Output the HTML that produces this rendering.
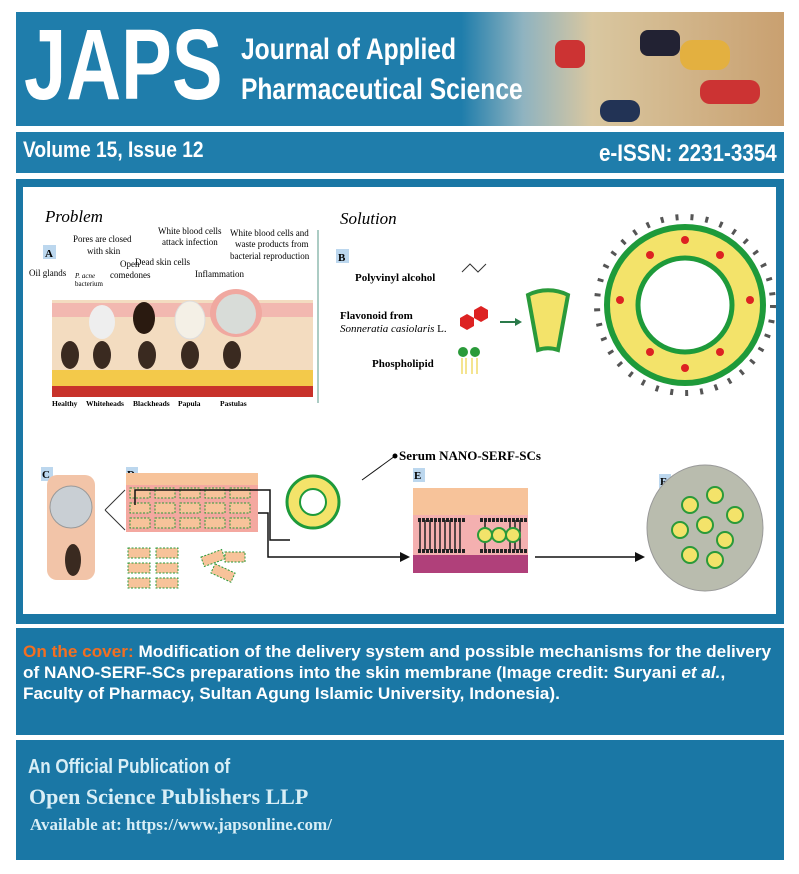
<!DOCTYPE html>
<html><head><meta charset="utf-8"><style>
body{margin:0;width:799px;height:874px;background:#fff;position:relative;overflow:hidden;font-family:"Liberation Sans",sans-serif}
.abs{position:absolute}
</style></head><body>
<div class="abs" style="left:16px;top:12px;width:768px;height:114px;background:linear-gradient(90deg,#1f7dab 0%,#1f7dab 58%,#8fb3c0 66%,#d9c7a0 75%,#c9a070 100%)"></div>
<div class="abs" style="left:555px;top:40px;width:30px;height:28px;background:#c33;border-radius:8px"></div>
<div class="abs" style="left:640px;top:30px;width:40px;height:26px;background:#223;border-radius:8px"></div>
<div class="abs" style="left:700px;top:80px;width:60px;height:24px;background:#c33;border-radius:10px"></div>
<div class="abs" style="left:600px;top:100px;width:40px;height:22px;background:#235;border-radius:10px"></div>
<div class="abs" style="left:680px;top:40px;width:50px;height:30px;background:#e3b040;border-radius:12px"></div>
<div class="abs" style="left:24px;top:15px;color:#fff;font-weight:bold;font-size:100px;line-height:100px;transform:scaleX(0.76);transform-origin:left">JAPS</div>
<div class="abs" style="left:241px;top:30px;color:#fff;font-weight:bold;font-size:30px;line-height:40px;transform:scaleX(0.82);transform-origin:left;white-space:nowrap">Journal of Applied<br>Pharmaceutical Science</div>
<div class="abs" style="left:16px;top:132px;width:768px;height:41px;background:#1f7dab"></div>
<div class="abs" style="left:23px;top:137px;color:#fff;font-weight:bold;font-size:22px;transform:scaleX(0.87);transform-origin:left;white-space:nowrap">Volume 15, Issue 12</div>
<div class="abs" style="right:22px;top:140px;color:#fff;font-weight:bold;font-size:24px;transform:scaleX(0.86);transform-origin:right;white-space:nowrap">e-ISSN: 2231-3354</div>
<div class="abs" style="left:16px;top:179px;width:768px;height:445px;background:#1a77a5"></div>
<div class="abs" style="left:23px;top:187px;width:753px;height:427px;background:#fff"></div>
<svg class="abs" style="left:0;top:0" width="799" height="620" font-family="Liberation Serif,serif">
<text x="45" y="222" font-size="17" font-style="italic">Problem</text>
<text x="340" y="224" font-size="17" font-style="italic">Solution</text>
<line x1="318" y1="230" x2="318" y2="403" stroke="#5a9a8a"/>
<rect x="43" y="245" width="13" height="14" fill="#bcd7ee"/><text x="45" y="257" font-size="11" font-weight="bold">A</text>
<g font-size="9">
<text x="29" y="276">Oil glands</text><text x="75" y="278" font-size="7" font-style="italic">P. acne</text><text x="75" y="286" font-size="7">bacterium</text>
<text x="73" y="242">Pores are closed</text><text x="87" y="254">with skin</text>
<text x="120" y="267">Open</text><text x="110" y="278">comedones</text>
<text x="135" y="265">Dead skin cells</text>
<text x="158" y="234">White blood cells</text><text x="162" y="245">attack infection</text>
<text x="230" y="236">White blood cells and</text><text x="235" y="247">waste products from</text><text x="230" y="259">bacterial reproduction</text>
<text x="195" y="277">Inflammation</text>
</g>
<rect x="52" y="300" width="261" height="97" fill="#f3dcc0"/>
<rect x="52" y="303" width="261" height="14" fill="#f2b8b0"/>
<rect x="52" y="370" width="261" height="16" fill="#f3c94a"/>
<rect x="52" y="386" width="261" height="11" fill="#c8322a"/>
<g fill="#3a2a20">
<ellipse cx="70" cy="355" rx="9" ry="14"/><ellipse cx="102" cy="355" rx="9" ry="14"/><ellipse cx="147" cy="355" rx="9" ry="14"/><ellipse cx="190" cy="355" rx="9" ry="14"/><ellipse cx="232" cy="355" rx="9" ry="14"/></g>
<ellipse cx="102" cy="322" rx="13" ry="17" fill="#eee"/><ellipse cx="144" cy="318" rx="11" ry="16" fill="#2a1a10"/>
<ellipse cx="190" cy="320" rx="15" ry="19" fill="#f4f0e6" stroke="#ddd"/><ellipse cx="236" cy="313" rx="26" ry="24" fill="#f0a8a0"/><ellipse cx="236" cy="314" rx="20" ry="20" fill="#d8dcd8"/>
<g font-size="7.5" font-weight="bold"><text x="52" y="406">Healthy</text><text x="86" y="406">Whiteheads</text><text x="133" y="406">Blackheads</text><text x="178" y="406">Papula</text><text x="220" y="406">Pastulas</text></g>
<rect x="336" y="249" width="13" height="14" fill="#bcd7ee"/><text x="338" y="261" font-size="11" font-weight="bold">B</text>
<g font-size="11" font-weight="bold"><text x="355" y="281">Polyvinyl alcohol</text><text x="340" y="319">Flavonoid from</text><text x="372" y="367">Phospholipid</text></g>
<text x="340" y="332" font-size="11" font-style="italic">Sonneratia casiolaris <tspan font-style="normal">L.</tspan></text>
<path d="M462 272 l8 -8 l8 8 l8 -8" stroke="#333" fill="none"/>
<g fill="#d22"><polygon points="460,318 467,314 474,318 474,326 467,330 460,326"/><polygon points="474,310 481,306 488,310 488,318 481,322 474,318"/></g>
<circle cx="463" cy="352" r="5" fill="#2a9a3a"/><circle cx="475" cy="352" r="5" fill="#2a9a3a"/><path d="M462 358 v16 M466 358 v16 M472 358 v16 M477 358 v16" stroke="#e8c820"/>
<line x1="500" y1="322" x2="515" y2="322" stroke="#2a7a4a" stroke-width="2"/><polygon points="515,318 522,322 515,326" fill="#2a7a4a"/>
<path d="M528 295 a45 45 0 0 1 40 0 l-10 55 a30 30 0 0 0 -20 0z" fill="#f3e36a" stroke="#2a9a3a" stroke-width="4"/>
<circle cx="685" cy="305" r="78" fill="#f3e36a" stroke="#1e9a3a" stroke-width="6"/>
<circle cx="685" cy="305" r="47" fill="#fff" stroke="#1e9a3a" stroke-width="5"/>
<circle cx="685" cy="305" r="88" fill="none" stroke="#555" stroke-width="6" stroke-dasharray="3 12"/>
<g fill="#d22"><circle cx="650" cy="255" r="4"/><circle cx="720" cy="255" r="4"/><circle cx="620" cy="300" r="4"/><circle cx="750" cy="300" r="4"/><circle cx="650" cy="352" r="4"/><circle cx="720" cy="352" r="4"/><circle cx="685" cy="240" r="4"/><circle cx="685" cy="368" r="4"/></g>
<rect x="41" y="467" width="12" height="14" fill="#bcd7ee"/><text x="42" y="478" font-size="11" font-weight="bold">C</text>
<rect x="47" y="475" width="48" height="105" fill="#f2c4a8" rx="10"/><circle cx="71" cy="507" r="21" fill="#c9cfd4" stroke="#999"/><ellipse cx="73" cy="560" rx="8" ry="16" fill="#3a2a20"/>
<rect x="126" y="467" width="12" height="14" fill="#bcd7ee"/><text x="127" y="478" font-size="11" font-weight="bold">D</text>
<rect x="126" y="485" width="132" height="47" fill="#f4a8a0"/><rect x="126" y="473" width="132" height="12" fill="#f7c39a"/>
<g fill="#f7c39a" stroke="#2a9a3a" stroke-dasharray="2 1.5">
<rect x="130" y="488" width="20" height="10"/><rect x="155" y="488" width="20" height="10"/><rect x="180" y="488" width="20" height="10"/><rect x="205" y="488" width="20" height="10"/><rect x="230" y="488" width="20" height="10"/>
<rect x="130" y="503" width="20" height="10"/><rect x="155" y="503" width="20" height="10"/><rect x="180" y="503" width="20" height="10"/><rect x="205" y="503" width="20" height="10"/><rect x="230" y="503" width="20" height="10"/>
<rect x="130" y="518" width="20" height="10"/><rect x="155" y="518" width="20" height="10"/><rect x="180" y="518" width="20" height="10"/><rect x="205" y="518" width="20" height="10"/><rect x="230" y="518" width="20" height="10"/>
<rect x="128" y="548" width="22" height="10"/><rect x="156" y="548" width="22" height="10"/><rect x="128" y="563" width="22" height="10"/><rect x="156" y="563" width="22" height="10"/><rect x="128" y="578" width="22" height="10"/><rect x="156" y="578" width="22" height="10"/>
<rect x="202" y="553" width="22" height="10" transform="rotate(-20 213 558)"/><rect x="212" y="568" width="22" height="10" transform="rotate(25 223 573)"/><rect x="225" y="552" width="20" height="10"/></g>
<path d="M105 510 L125 490 M105 510 L125 530" stroke="#333" fill="none"/>
<path d="M135 505 V490 H270 V540 H290" stroke="#111" stroke-width="1.5" fill="none"/>
<path d="M258 513 H268 V557 H400" stroke="#111" stroke-width="1.5" fill="none"/><polygon points="400,552 410,557 400,562" fill="#111"/>
<circle cx="313" cy="502" r="26" fill="#f3e36a" stroke="#1e9a3a" stroke-width="3"/><circle cx="313" cy="502" r="13" fill="#fff" stroke="#1e9a3a" stroke-width="2"/>
<path d="M362 480 L395 456" stroke="#111"/><circle cx="395" cy="456" r="2.5"/>
<text x="399" y="460" font-size="13" font-weight="bold">Serum NANO-SERF-SCs</text>
<rect x="413" y="468" width="12" height="14" fill="#bcd7ee"/><text x="414" y="479" font-size="11" font-weight="bold">E</text>
<rect x="413" y="488" width="115" height="27" fill="#f7c39a"/><rect x="413" y="515" width="115" height="40" fill="#f4b0b0"/><rect x="413" y="555" width="115" height="18" fill="#b0407a"/>
<g stroke="#222" stroke-width="1.5"><path d="M420 520 v30 M425 520 v30 M430 520 v30 M435 520 v30 M440 520 v30 M445 520 v30 M450 520 v30 M455 520 v30 M460 520 v30 M485 520 v30 M510 520 v30 M515 520 v30 M520 520 v30"/></g>
<g stroke="#222" stroke-width="4"><line x1="418" y1="520" x2="466" y2="520" stroke-dasharray="3 1"/><line x1="418" y1="551" x2="466" y2="551" stroke-dasharray="3 1"/><line x1="480" y1="520" x2="528" y2="520" stroke-dasharray="3 1"/><line x1="480" y1="551" x2="528" y2="551" stroke-dasharray="3 1"/></g>
<g fill="#f3e36a" stroke="#2a9a3a" stroke-width="2"><circle cx="485" cy="535" r="7"/><circle cx="499" cy="535" r="7"/><circle cx="513" cy="535" r="7"/></g>
<path d="M535 557 H635" stroke="#111" stroke-width="1.5"/><polygon points="635,552 645,557 635,562" fill="#111"/>
<rect x="659" y="474" width="12" height="14" fill="#bcd7ee"/><text x="660" y="485" font-size="11" font-weight="bold">F</text>
<ellipse cx="705" cy="528" rx="58" ry="63" fill="#b9bcae" stroke="#999"/>
<g fill="#f3e36a" stroke="#2a9a3a" stroke-width="2"><circle cx="690" cy="505" r="8"/><circle cx="715" cy="495" r="8"/><circle cx="735" cy="515" r="8"/><circle cx="680" cy="530" r="8"/><circle cx="705" cy="525" r="8"/><circle cx="725" cy="540" r="8"/><circle cx="690" cy="555" r="8"/><circle cx="715" cy="560" r="8"/></g>
</svg>
<div class="abs" style="left:16px;top:628px;width:768px;height:107px;background:#1a77a5"></div>
<div class="abs" style="left:23px;top:641px;color:#fff;font-weight:bold;font-size:17px;line-height:21px;transform:scaleX(1.01);transform-origin:left;white-space:nowrap"><span style="color:#f36f21">On the cover:</span> Modification of the delivery system and possible mechanisms for the delivery<br>of NANO-SERF-SCs preparations into the skin membrane (Image credit: Suryani <i>et al.</i>,<br>Faculty of Pharmacy, Sultan Agung Islamic University, Indonesia).</div>
<div class="abs" style="left:16px;top:740px;width:768px;height:120px;background:#1a77a5"></div>
<div class="abs" style="left:28px;top:756px;color:#d8eef6;font-weight:bold;font-size:20px;transform:scaleX(0.85);transform-origin:left;white-space:nowrap">An Official Publication of</div>
<div class="abs" style="left:29px;top:784px;color:#d8eef6;font-weight:bold;font-size:22px;font-family:'Liberation Serif',serif;white-space:nowrap">Open Science Publishers LLP</div>
<div class="abs" style="left:30px;top:815px;color:#d8eef6;font-weight:bold;font-size:17px;font-family:'Liberation Serif',serif;white-space:nowrap">Available at: https://www.japsonline.com/</div>
</body></html>
